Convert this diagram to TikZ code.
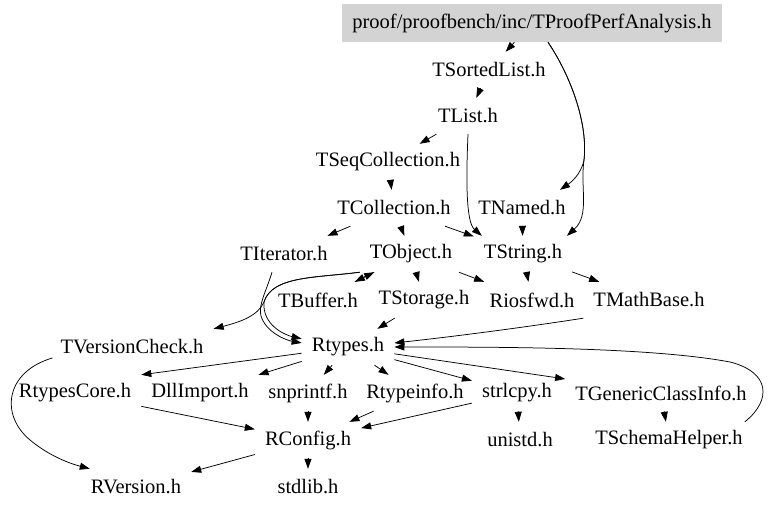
\documentclass[tikz,border=0pt]{standalone}
\usepackage{fontspec}
\setmainfont{Liberation Serif}
\usetikzlibrary{arrows.meta,calc}
\definecolor{rootgray}{RGB}{211,211,211}
\begin{document}
\begin{tikzpicture}[x=1pt,y=-1pt,
  every node/.style={font=\fontsize{20.5}{24}\selectfont},
  hdr/.style={inner xsep=10pt,inner ysep=0pt,minimum height=36pt,anchor=center},
  rootbox/.style={fill=rootgray,minimum width=380pt,minimum height=38pt,inner sep=0pt},
  arr/.style={-{Triangle[length=10pt,width=7pt]},line width=0.75pt,black}]
\useasboundingbox (0,0) rectangle (768,510);
\node[rootbox] (root) at (532,23) {proof/proofbench/inc/TProofPerfAnalysis.h};
\node[hdr] (tsl)    at (489,70)  {TSortedList.h};
\node[hdr] (tlist)  at (468,116) {TList.h};
\node[hdr] (tseq)   at (388,162) {TSeqCollection.h};
\node[hdr] (tcoll)  at (394,208) {TCollection.h};
\node[hdr] (tnamed) at (522,208) {TNamed.h};
\node[hdr] (titer)  at (284,254) {TIterator.h};
\node[hdr] (tobj)   at (411,254) {TObject.h};
\node[hdr] (tstr)   at (523,254) {TString.h};
\node[hdr] (tbuf)   at (318,300) {TBuffer.h};
\node[hdr] (tstor)  at (424,300) {TStorage.h};
\node[hdr] (rios)   at (532,300) {Riosfwd.h};
\node[hdr] (tmb)    at (649,300) {TMathBase.h};
\node[hdr] (tvc)    at (132,347) {TVersionCheck.h};
\node[hdr] (rty)    at (348,347) {Rtypes.h};
\node[hdr] (rcore)  at (75,393)  {RtypesCore.h};
\node[hdr] (dll)    at (200,393) {DllImport.h};
\node[hdr] (snp)    at (308,393) {snprintf.h};
\node[hdr] (rti)    at (415,393) {Rtypeinfo.h};
\node[hdr] (strl)   at (517,393) {strlcpy.h};
\node[hdr] (tgci)   at (661,393) {TGenericClassInfo.h};
\node[hdr] (rconf)  at (308,440) {RConfig.h};
\node[hdr] (unistd) at (520,440) {unistd.h};
\node[hdr] (tsh)    at (669,440) {TSchemaHelper.h};
\node[hdr] (rver)   at (136,487) {RVersion.h};
\node[hdr] (stdl)   at (308,487) {stdlib.h};
% edges
\draw[arr] (root) -- (tsl);
\draw[arr] ($(root.south)+(16,0)$) .. controls (572,78) and (588,125) .. (584,160) .. controls (581,175) and (570,183) .. ($(tnamed.north)+(38,0)$);
\draw[arr] ($(root.south)+(16,0)$) .. controls (572,78) and (588,125) .. (584,160) .. controls (580,188) and (590,215) .. ($(tstr.north)+(44,0)$);
\draw[arr] (tsl) -- (tlist);
\draw[arr] (tlist) -- (tseq);
\draw[arr] (tlist.south) .. controls (466,180) and (466,222) .. ($(tstr.north west)+(8,0)$);
\draw[arr] (tseq) -- (tcoll);
\draw[arr] (tcoll) -- (titer);
\draw[arr] (tcoll) -- (tobj);
\draw[arr] (tcoll) -- (tstr);
\draw[arr] (tnamed) -- (tstr);
\draw[arr] (tobj) -- (tbuf);
\draw[arr] (tbuf) -- (tobj);
\draw[arr] (tobj) -- (tstor);
\draw[arr] (tobj) -- (rios);
\draw[arr] (tstr) -- (rios);
\draw[arr] (tstr) -- (tmb);
\draw[arr] (tobj.south west) .. controls (315,278) and (272,276) .. (264,302) .. controls (258,316) and (240,322) .. (tvc.north east);
\draw[arr] (tobj.south west) .. controls (315,278) and (272,276) .. (264,302) .. controls (262,325) and (285,335) .. (rty.170);
\draw[arr] ($(titer.south)+(-12,0)$) .. controls (266,292) and (258,305) .. (261,316) .. controls (266,332) and (285,340) .. (rty.175);
\draw[arr] (tstor) -- (rty);
\draw[arr] (tmb.south west) .. controls (520,328) and (450,337) .. (rty.5);
\draw[arr] ($(tsh.north east)+(-8,0)$) .. controls (772,400) and (770,372) .. (730,362) .. controls (650,347) and (500,347) .. (rty.east);
\draw[arr] (rty) -- (rcore.north east);
\draw[arr] (rty) -- (dll);
\draw[arr] (rty) -- (snp);
\draw[arr] (rty) -- (rti);
\draw[arr] (rty) -- (strl);
\draw[arr] (rty) -- (tgci);
\draw[arr] (rcore) -- (rconf);
\draw[arr] (snp) -- (rconf);
\draw[arr] (rti) -- (rconf);
\draw[arr] (strl) -- (rconf);
\draw[arr] (rconf) -- (rver);
\draw[arr] (rconf) -- (stdl);
\draw[arr] ($(tvc.west)+(2,11)$) .. controls (5,372) and (0,415) .. (30,440) .. controls (48,455) and (68,463) .. ($(rver.north west)+(9,0)$);
\draw[arr] (strl) -- (unistd);
\draw[arr] (tgci) -- (tsh);
\end{tikzpicture}
\end{document}
